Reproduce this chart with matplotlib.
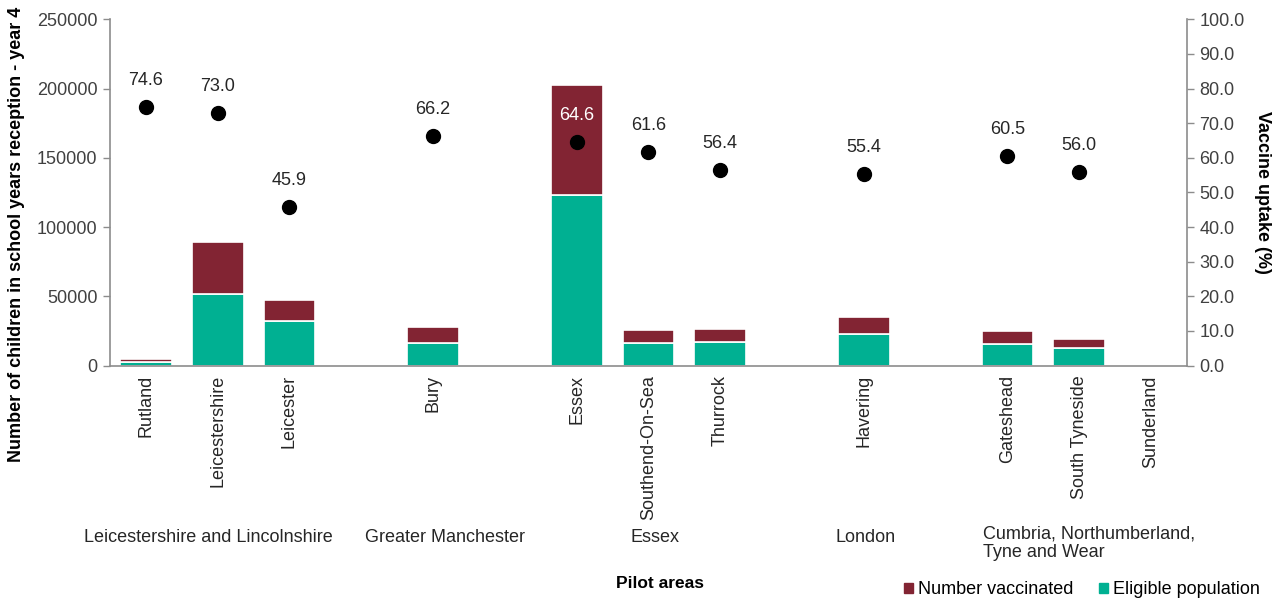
import numpy as np
import matplotlib
matplotlib.use("Agg")
import matplotlib.pyplot as plt
from matplotlib.patches import Patch

plt.rcParams["font.family"] = ["Liberation Sans", "DejaVu Sans"]

TEAL = "#00b092"
MAROON = "#822433"
GREY = "#404040"
nan = np.nan

# blank strings are the spacer slots between pilot areas
areas = ["Rutland", "Leicestershire", "Leicester", "", "Bury", "", "Essex",
         "Southend-On-Sea", "Thurrock", "", "Havering", "", "Gateshead",
         "South Tyneside", "Sunderland"]
eligible = [2500, 51500, 32500, nan, 16500, nan, 122800, 16000, 17000, nan,
            22500, nan, 15300, 12400, nan]
vaccinated = [1900, 37600, 14900, nan, 11500, nan, 79600, 9800, 9500, nan,
              12500, nan, 9300, 6900, nan]
uptake = [74.6, 73.0, 45.9, nan, 66.2, nan, 64.6, 61.6, 56.4, nan, 55.4, nan,
          60.5, 56.0, nan]
groups = ["Leicestershire and Lincolnshire", "Greater Manchester", "Essex",
          "London", "Cumbria, Northumberland,\nTyne and Wear"]

fig = plt.figure(figsize=(12.76, 6.0), dpi=100)
ax = fig.add_axes([0.0862, 0.3908, 0.844, 0.577])
x = np.arange(len(areas))
elig = np.nan_to_num(eligible)
vacc = np.nan_to_num(vaccinated)
ax.bar(x, elig, 0.72, color=TEAL, edgecolor="white", linewidth=1.2, zorder=2)
ax.bar(x, vacc, 0.72, bottom=elig, color=MAROON, edgecolor="white",
       linewidth=1.2, zorder=2)
ax.set_xlim(-0.5, len(areas) - 0.5)
ax.set_ylim(0, 250000)
ax.set_yticks(np.arange(0, 250001, 50000))
ax.set_xticks(x)
ax.set_xticklabels(areas, rotation=90, va="top", ha="center", fontsize=13,
                   color="#262626")
ax.tick_params(axis="x", length=0, pad=7)
ax.tick_params(axis="y", length=5, width=1, color="#8c8c8c", labelsize=13,
               labelcolor=GREY, pad=4)
for s in ("top", "right"):
    ax.spines[s].set_visible(False)
for s in ("left", "bottom"):
    ax.spines[s].set_color("#8c8c8c")
    ax.spines[s].set_linewidth(1.2)

ax2 = ax.twinx()
ax2.set_ylim(0, 100)
ax2.set_yticks(np.arange(0, 101, 10))
ax2.set_yticklabels([f"{v:.1f}" for v in np.arange(0, 101, 10)])
ax2.tick_params(axis="y", length=5, width=1, color="#8c8c8c", labelsize=13,
                labelcolor=GREY, pad=4)
for s in ("top", "left", "bottom"):
    ax2.spines[s].set_visible(False)
ax2.spines["right"].set_color("#8c8c8c")
ax2.spines["right"].set_linewidth(1.2)
ax2.plot(x, uptake, "o", color="black", markersize=10, zorder=4)
for xi, u, tot in zip(x, uptake, elig + vacc):
    if not np.isnan(u):
        # labels that sit on top of a bar are drawn in white
        inside = tot / 2500 > u + 8
        ax2.annotate(f"{u:.1f}", (xi, u), xytext=(0, 13), textcoords="offset points",
                     ha="center", va="bottom", fontsize=13,
                     color="white" if inside else "#262626")

fig.text(17 / 1276, 0.61, "Number of children in school years reception - year 4",
         rotation=90, ha="center", va="center", fontsize=13, fontweight="bold")
fig.text(1262 / 1276, 0.68, "Vaccine uptake (%)", rotation=270, ha="center",
         va="center", fontsize=13, fontweight="bold")

group_x = [208, 445, 655, 866, 983]
for gx, g in zip(group_x, groups):
    if "\n" in g:
        fig.text(gx / 1276, 1 - 543 / 600, g, ha="left", va="center",
                 fontsize=13, color="#262626", linespacing=1.15)
    else:
        fig.text(gx / 1276, 1 - 538 / 600, g, ha="center", va="center",
                 fontsize=13, color="#262626")

fig.text(660 / 1276, 1 - 584 / 600, "Pilot areas", ha="center", va="center",
         fontsize=12.5, fontweight="bold")

handles = [Patch(color=MAROON, label="Number vaccinated"),
           Patch(color=TEAL, label="Eligible population")]
fig.legend(handles=handles, ncol=2, frameon=False, loc="center",
           bbox_to_anchor=(1082 / 1276, 1 - 590 / 600), fontsize=13,
           handlelength=0.5, handleheight=0.5, handletextpad=0.3,
           columnspacing=1.4)

fig.savefig("out.png", dpi=100, facecolor="white")
